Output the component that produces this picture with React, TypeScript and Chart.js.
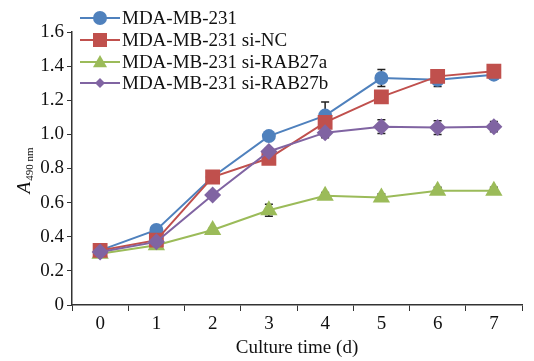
import React, { useEffect, useRef } from "react";
import { Chart, registerables } from "chart.js";

Chart.register(...registerables);

const days = ["0", "1", "2", "3", "4", "5", "6", "7"];
const seriesNames = ["MDA-MB-231", "MDA-MB-231 si-NC", "MDA-MB-231 si-RAB27a", "MDA-MB-231 si-RAB27b"];
const parental = [0.32, 0.44, 0.75, 0.99, 1.11, 1.33, 1.32, 1.35];
const siNC = [0.32, 0.38, 0.75, 0.86, 1.07, 1.22, 1.34, 1.37];
const siRAB27a = [0.30, 0.35, 0.44, 0.555, 0.64, 0.63, 0.67, 0.67];
const siRAB27b = [0.31, 0.37, 0.645, 0.90, 1.01, 1.045, 1.04, 1.045];
const parentalErr = [0.01, 0.01, 0.02, 0.02, 0.08, 0.05, 0.04, 0.02];
const siNCErr = [0.01, 0.01, 0.02, 0.02, 0.03, 0.02, 0.02, 0.02];
const siRAB27aErr = [0.01, 0.01, 0.01, 0.035, 0.02, 0.02, 0.02, 0.02];
const siRAB27bErr = [0.01, 0.01, 0.02, 0.02, 0.03, 0.04, 0.04, 0.03];
const yTicks = [0, 0.2, 0.4, 0.6, 0.8, 1.0, 1.2, 1.4, 1.6];

const colors = ["#4F81BD", "#C0504D", "#9BBB59", "#8064A2"];
const styles = ["circle", "rect", "triangle", "rectRot"];
const radii = [7, 10.5, 10, 8.5];
const FONT = "'Liberation Serif', 'Times New Roman', serif";

function drawMarker(ctx: CanvasRenderingContext2D, style: string, x: number, y: number, s: number) {
  ctx.beginPath();
  if (style === "circle") {
    ctx.arc(x, y, s, 0, Math.PI * 2);
  } else if (style === "rect") {
    ctx.rect(x - s, y - s, 2 * s, 2 * s);
  } else if (style === "triangle") {
    ctx.moveTo(x, y - s);
    ctx.lineTo(x + s, y + s * 0.75);
    ctx.lineTo(x - s, y + s * 0.75);
    ctx.closePath();
  } else {
    ctx.moveTo(x, y - s);
    ctx.lineTo(x + s, y);
    ctx.lineTo(x, y + s);
    ctx.lineTo(x - s, y);
    ctx.closePath();
  }
  ctx.fill();
}

const errorBars = {
  id: "errorBars",
  beforeDatasetsDraw(chart: any) {
    const ctx = chart.ctx;
    const y = chart.scales.y;
    ctx.save();
    ctx.strokeStyle = "#222";
    ctx.lineWidth = 1.5;
    chart.data.datasets.forEach((ds: any, i: number) => {
      const meta = chart.getDatasetMeta(i);
      meta.data.forEach((pt: any, j: number) => {
        const v = ds.data[j];
        const e = ds.err[j];
        const yt = y.getPixelForValue(v + e);
        const yb = y.getPixelForValue(v - e);
        ctx.beginPath();
        ctx.moveTo(pt.x, yt);
        ctx.lineTo(pt.x, yb);
        ctx.moveTo(pt.x - 4, yt);
        ctx.lineTo(pt.x + 4, yt);
        ctx.moveTo(pt.x - 4, yb);
        ctx.lineTo(pt.x + 4, yb);
        ctx.stroke();
      });
    });
    ctx.restore();
  },
};

const extras = {
  id: "extras",
  afterDraw(chart: any) {
    const ctx = chart.ctx;
    ctx.save();
    const rows = [18, 40, 62, 83];
    const legendSizes = [7, 7, 7, 5];
    seriesNames.forEach((name, i) => {
      const yy = rows[i];
      ctx.strokeStyle = colors[i];
      ctx.lineWidth = 2;
      ctx.beginPath();
      ctx.moveTo(80, yy);
      ctx.lineTo(120, yy);
      ctx.stroke();
      ctx.fillStyle = colors[i];
      drawMarker(ctx, styles[i], 100, yy, legendSizes[i]);
      ctx.fillStyle = "#111";
      ctx.font = `19px ${FONT}`;
      ctx.textAlign = "left";
      ctx.textBaseline = "middle";
      ctx.fillText(name, 122, yy + 1);
    });
    ctx.translate(24, 171);
    ctx.rotate(-Math.PI / 2);
    ctx.fillStyle = "#111";
    ctx.textBaseline = "alphabetic";
    ctx.textAlign = "left";
    ctx.font = `italic 19px ${FONT}`;
    const aw = ctx.measureText("A").width;
    ctx.font = `11px ${FONT}`;
    const sw = ctx.measureText("490 nm").width;
    const start = -(aw + sw) / 2;
    ctx.font = `italic 19px ${FONT}`;
    ctx.fillText("A", start, 6);
    ctx.font = `11px ${FONT}`;
    ctx.fillText("490 nm", start + aw + 1, 9);
    ctx.restore();
  },
};

export default function App() {
  const ref = useRef<HTMLCanvasElement>(null);
  useEffect(() => {
    const all = [parental, siNC, siRAB27a, siRAB27b];
    const errs = [parentalErr, siNCErr, siRAB27aErr, siRAB27bErr];
    const orders = [3, 1, 2, 0];
    const chart = new Chart(ref.current!, {
      type: "line",
      data: {
        labels: days,
        datasets: all.map((d, i) => ({
          label: seriesNames[i],
          data: d,
          err: errs[i],
          borderColor: colors[i],
          backgroundColor: colors[i],
          pointBackgroundColor: colors[i],
          pointBorderColor: colors[i],
          pointBorderWidth: 0,
          pointStyle: styles[i],
          pointRadius: radii[i],
          borderWidth: 2,
          tension: 0,
          order: orders[i],
        })) as any,
      },
      options: {
        responsive: false,
        animation: false,
        layout: { padding: { left: 0, right: 12, top: 32, bottom: 0 } },
        plugins: { legend: { display: false }, tooltip: { enabled: false } },
        scales: {
          x: {
            offset: true,
            grid: {
              offset: true,
              drawOnChartArea: false,
              drawTicks: true,
              tickLength: 6,
              color: "#333",
              lineWidth: 1,
            },
            border: { color: "#333", width: 1.5 },
            ticks: { color: "#111", font: { family: FONT, size: 19 }, padding: 2 },
            title: {
              display: true,
              text: "Culture time (d)",
              color: "#111",
              font: { family: FONT, size: 19 },
              padding: { top: 0, bottom: 2 },
            },
            afterFit: (s: any) => {
              s.height = 56;
            },
          },
          y: {
            min: 0,
            max: 1.6,
            afterBuildTicks: (s: any) => {
              s.ticks = yTicks.map((v) => ({ value: v }));
            },
            grid: {
              drawOnChartArea: false,
              drawTicks: true,
              tickLength: 5,
              color: "#333",
            },
            border: { color: "#333", width: 1.5 },
            ticks: {
              color: "#111",
              font: { family: FONT, size: 19 },
              padding: 3,
              callback: (v: any) => (v === 0 ? "0" : Number(v).toFixed(1)),
            },
            afterFit: (s: any) => {
              s.width = 72;
            },
          },
        },
      },
      plugins: [errorBars, extras],
    });
    return () => chart.destroy();
  }, []);
  return (
    <div style={{ position: "fixed", left: 0, top: 0, width: 534, height: 361, background: "#fff" }}>
      <canvas ref={ref} width={534} height={361} style={{ width: 534, height: 361 }} />
    </div>
  );
}
